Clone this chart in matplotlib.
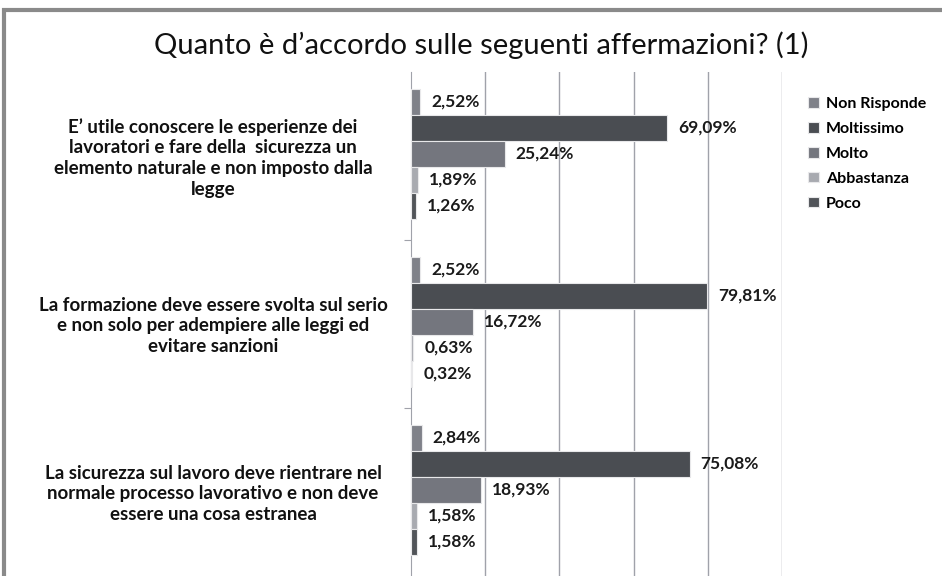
import matplotlib
matplotlib.use("Agg")
import matplotlib.pyplot as plt
from matplotlib.patches import Rectangle
import numpy as np

plt.rcParams['font.family'] = ['Lato', 'DejaVu Sans']

title = "Quanto è d\u2019accordo sulle seguenti affermazioni? (1)"
categories = [
    "E\u2019 utile conoscere le esperienze dei\nlavoratori e fare della  sicurezza un\nelemento naturale e non imposto dalla\nlegge",
    "La formazione deve essere svolta sul serio\ne non solo per adempiere alle leggi ed\nevitare sanzioni",
    "La sicurezza sul lavoro deve rientrare nel\nnormale processo lavorativo e non deve\nessere una cosa estranea",
]
series = ["Non Risponde", "Moltissimo", "Molto", "Abbastanza", "Poco"]
non_risponde = [2.52, 2.52, 2.84]
moltissimo = [69.09, 79.81, 75.08]
molto = [25.24, 16.72, 18.93]
abbastanza = [1.89, 0.63, 1.58]
poco = [1.26, 0.32, 1.58]
values = [non_risponde, moltissimo, molto, abbastanza, poco]
colors = ["#7f8189", "#4a4d52", "#74767e", "#a8aab0", "#515459"]

W, H = 942, 576
fig = plt.figure(figsize=(W / 100, H / 100), dpi=100)
fig.patch.set_facecolor("white")

# outer frame
fig.patches.append(Rectangle((4 / W, -0.05), 1.2, 1 - 10 / H + 0.05,
                             transform=fig.transFigure, fill=False,
                             edgecolor="#8a8a8a", linewidth=3, zorder=0))

ax = fig.add_axes([411 / W, 0, (782 - 411) / W, (576 - 72) / H])
ax.set_xlim(0, 100)
ax.set_ylim(2.5, -0.5)

bh = 26 / 168
y0 = np.arange(len(categories)) - 0.012
for k, (name, vals, c) in enumerate(zip(series, values, colors)):
    ys = y0 + (k - 2) * bh
    ax.barh(ys, vals, height=bh, color=c, edgecolor="#e8e8ea", linewidth=0.8,
            label=name, zorder=3)
    for y, v in zip(ys, vals):
        ax.annotate(f"{v:.2f}%".replace(".", ","), (v, y), xytext=(8, 0),
                    textcoords="offset points", va="center", ha="left",
                    fontsize=12.5, fontweight="bold", color="#1a1a1a", zorder=4)

ax.set_xticks([20, 40, 60, 80, 100])
ax.xaxis.grid(True, color="#a0a2aa", linewidth=1)
ax.tick_params(axis="x", length=0, labelbottom=False)
ax.set_yticks([0.5, 1.5])
ax.set_yticklabels([])
ax.tick_params(axis="y", length=5, color="#a0a2aa", direction="out")
for s in ["top", "right", "bottom"]:
    ax.spines[s].set_visible(False)
ax.spines["left"].set_color("#a0a2aa")
ax.set_axisbelow(True)

for i, cat in enumerate(categories):
    fig.text(213 / W, 1 - (158 + 168 * i) / H, cat, ha="center", va="center",
             fontsize=13.5, fontweight="bold", color="#111111", linespacing=1.28)

fig.text(481 / W, 1 - 45 / H, title, ha="center", va="center", fontsize=21,
         color="#111111")

leg = ax.legend(loc="upper left", bbox_to_anchor=(797 / W, 1 - 86 / H),
                bbox_transform=fig.transFigure, frameon=False,
                prop={"weight": "bold", "size": 11.5}, handlelength=0.65,
                handleheight=0.65, handletextpad=0.45, labelspacing=0.68,
                borderpad=0.2)

fig.savefig("out.png", dpi=100)
